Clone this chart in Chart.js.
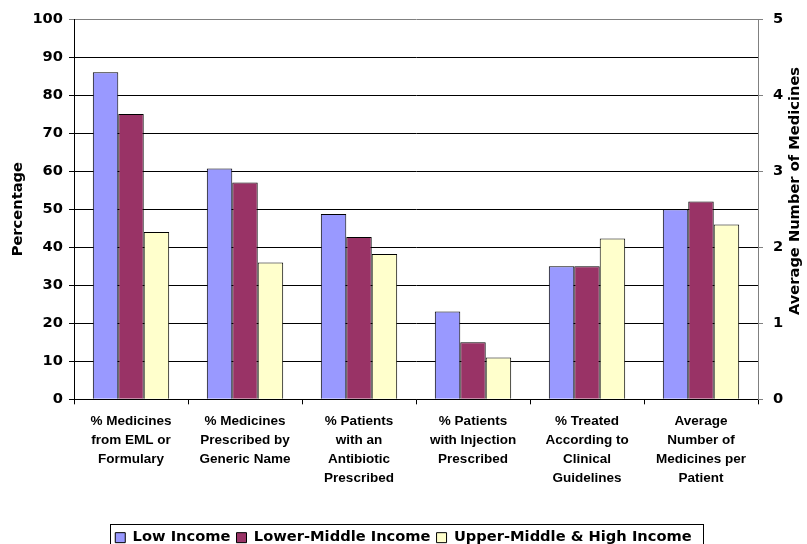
<!DOCTYPE html>
<html>
<head>
<meta charset="utf-8">
<title>Prescribing indicators by income group</title>
<script src="https://cdn.jsdelivr.net/npm/chart.js@4.4.1/dist/chart.umd.min.js"></script>
<style>
  html, body { margin: 0; padding: 0; background: #fff; }
  #wrap { width: 807px; height: 544px; }
</style>
</head>
<body>
<div id="wrap"><canvas id="grafica"></canvas></div>
<script>
// categories (multi-line labels under the x axis)
const categories = [
    ['% Medicines', 'from EML or', 'Formulary'],
    ['% Medicines', 'Prescribed by', 'Generic Name'],
    ['% Patients', 'with an', 'Antibiotic', 'Prescribed'],
    ['% Patients', 'with Injection', 'Prescribed'],
    ['% Treated', 'According to', 'Clinical', 'Guidelines'],
    ['Average', 'Number of', 'Medicines per', 'Patient']
];

const seriesNames = ['Low Income', 'Lower-Middle Income', 'Upper-Middle & High Income'];
const seriesColors = ['#9999FF', '#993366', '#FFFFCC'];

// percentage indicators (first five categories, left axis)
const lowIncome = [86.0, 60.7, 48.7, 23.1, 35.0];
const lowerMiddleIncome = [75.0, 57.0, 42.7, 15.0, 35.0];
const upperMiddleHighIncome = [44.0, 36.0, 38.2, 11.0, 42.3];

// average number of medicines per patient (last category, right axis)
const avgMedicines = [2.5, 2.6, 2.3];

// axis ranges
const percentTicks = { min: 0, max: 100, step: 10 };
const medicineTicks = { min: 0, max: 5, step: 1 };

const FONT_WIDE = '"DejaVu Sans", Verdana, sans-serif';
const FONT_LABELS = '"Liberation Sans", Arial, sans-serif';
const FONT_SIZE = 14.67;

Chart.defaults.color = '#000';
Chart.defaults.font.family = FONT_WIDE;
Chart.defaults.font.size = FONT_SIZE;
Chart.defaults.font.weight = 'bold';

const percentSeries = [lowIncome, lowerMiddleIncome, upperMiddleHighIncome];
const datasets = [];

percentSeries.forEach((vals, i) => {
    datasets.push({
        label: seriesNames[i],
        data: vals.concat([null]),
        yAxisID: 'y',
        backgroundColor: seriesColors[i],
        borderColor: '#000',
        borderWidth: 1
    });
});
avgMedicines.forEach((v, i) => {
    const data = categories.map(() => null);
    data[categories.length - 1] = v;
    datasets.push({
        label: seriesNames[i] + ' (avg)',
        data: data,
        yAxisID: 'y1',
        backgroundColor: seriesColors[i],
        borderColor: '#000',
        borderWidth: 1
    });
});

// box around the legend items, and the right axis title reading bottom-to-top
const marcoLeyenda = {
    id: 'marcoLeyenda',
    afterDraw(chart) {
        const lg = chart.legend;
        if (!lg || !lg.legendHitBoxes.length) return;
        const boxes = lg.legendHitBoxes;
        const left = Math.min(...boxes.map(b => b.left)) - 5;
        const right = Math.max(...boxes.map(b => b.left + b.width)) + 12;
        const mid = boxes[0].top + boxes[0].height / 2;
        const top = mid - 14;
        const ctx = chart.ctx;
        ctx.save();
        ctx.strokeStyle = '#000';
        ctx.lineWidth = 1;
        ctx.strokeRect(Math.round(left) + 0.5, Math.round(top) + 0.5, Math.round(right - left), 40);
        ctx.restore();
    }
};

const tituloDerecho = {
    id: 'tituloDerecho',
    afterDraw(chart) {
        const ctx = chart.ctx;
        ctx.save();
        ctx.translate(795, 191);
        ctx.rotate(-Math.PI / 2);
        ctx.font = 'bold ' + FONT_SIZE + 'px ' + FONT_WIDE;
        ctx.fillStyle = '#000';
        ctx.textAlign = 'center';
        ctx.textBaseline = 'middle';
        ctx.fillText('Average Number of Medicines', 0, 0);
        ctx.restore();
    }
};

const ctx = document.getElementById('grafica').getContext('2d');
new Chart(ctx, {
    type: 'bar',
    data: { labels: categories, datasets: datasets },
    options: {
        responsive: true,
        maintainAspectRatio: false,
        animation: false,
        datasets: { bar: { skipNull: true, categoryPercentage: 0.67, barPercentage: 1.0 } },
        layout: { padding: { top: 19, right: 0, bottom: -11, left: 0 } },
        plugins: {
            tooltip: { enabled: false },
            legend: {
                position: 'bottom',
                labels: {
                    filter: item => item.datasetIndex < 3,
                    boxWidth: 10,
                    boxHeight: 10,
                    padding: 6,
                    font: { family: FONT_WIDE, size: FONT_SIZE, weight: 'bold' }
                }
            }
        },
        scales: {
            x: {
                offset: true,
                grid: { offset: true, drawOnChartArea: false, drawTicks: true, tickLength: 5, color: '#000' },
                border: { color: '#000', width: 1 },
                ticks: {
                    maxRotation: 0,
                    autoSkip: false,
                    padding: 7,
                    font: { family: FONT_LABELS, size: 13.5, weight: 'bold', lineHeight: '19px' }
                },
                afterFit(scale) { scale.height = 125; }
            },
            y: {
                position: 'left',
                min: percentTicks.min,
                max: percentTicks.max,
                ticks: { stepSize: percentTicks.step, padding: 6 },
                grid: {
                    color: c => (c.tick && c.tick.value === percentTicks.max ? '#808080' : '#000'),
                    tickLength: 5
                },
                border: { color: '#000', width: 1 },
                title: { display: true, text: 'Percentage', padding: { top: 9, bottom: 0 } },
                afterFit(scale) { scale.width = 74; }
            },
            y1: {
                position: 'right',
                min: medicineTicks.min,
                max: medicineTicks.max,
                ticks: { stepSize: medicineTicks.step, padding: 10 },
                grid: { drawOnChartArea: false, tickLength: 5, color: '#808080' },
                border: { color: '#808080', width: 1 },
                afterFit(scale) { scale.width = 49; }
            }
        }
    },
    plugins: [marcoLeyenda, tituloDerecho]
});
</script>
</body>
</html>
